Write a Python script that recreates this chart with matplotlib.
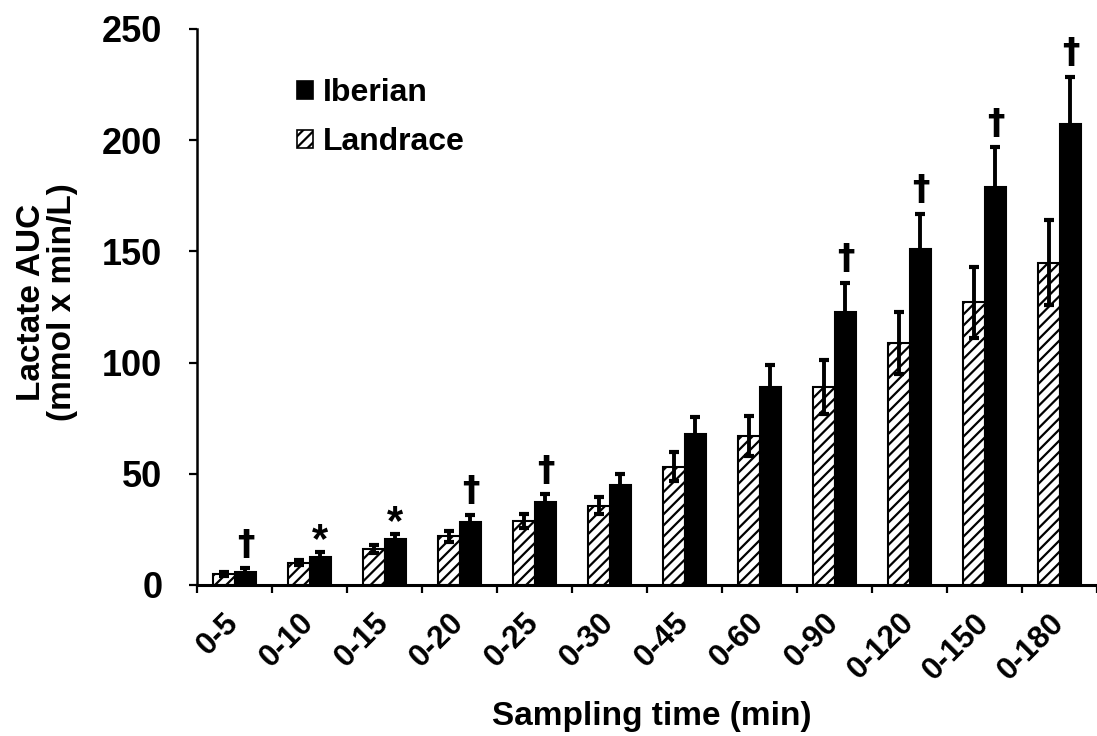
import matplotlib
matplotlib.use("Agg")
import matplotlib.pyplot as plt
from matplotlib.patches import Patch
import numpy as np

plt.rcParams['font.family'] = ['Liberation Sans', 'DejaVu Sans']
plt.rcParams['font.weight'] = 'bold'
plt.rcParams['hatch.linewidth'] = 1.6

categories = ['0-5', '0-10', '0-15', '0-20', '0-25', '0-30', '0-45', '0-60',
              '0-90', '0-120', '0-150', '0-180']
landrace = [4.9, 10.0, 16.0, 22.0, 28.8, 35.7, 53.2, 67.0, 89.0, 108.8, 127.1, 145.0]
landrace_err = [1.0, 1.2, 1.8, 2.5, 3.3, 4.0, 6.5, 9.0, 12.0, 14.0, 16.0, 19.0]
iberian = [6.0, 12.8, 20.5, 28.5, 37.2, 45.0, 67.9, 88.9, 122.8, 151.0, 178.8, 207.4]
iberian_err = [1.5, 2.0, 2.5, 3.0, 3.6, 4.8, 7.5, 10.0, 13.0, 16.0, 18.0, 21.0]
marks = ['†', '*', '*', '†', '†', '', '', '', '†', '†', '†', '†']

W, H = 1097, 736
fig = plt.figure(figsize=(W / 100, H / 100), dpi=100)
ax = fig.add_axes([197 / W, (H - 585) / H, 900 / W, 556 / H])

x = np.arange(len(categories))
bw = 0.29
ax.bar(x - bw / 2, landrace, bw, facecolor='white', edgecolor='black',
       hatch='///', linewidth=1.5, zorder=2)
ax.bar(x + bw / 2, iberian, bw, facecolor='black', edgecolor='black',
       linewidth=1.5, zorder=2)
ax.errorbar(x - bw / 2, landrace, yerr=landrace_err, fmt='none', ecolor='black',
            elinewidth=2.8, capsize=3.5, capthick=3, zorder=3)
ax.errorbar(x + bw / 2, iberian, yerr=iberian_err, fmt='none', ecolor='black',
            elinewidth=2.8, capsize=3.5, capthick=3, zorder=3)

for xi, v, e, m in zip(x, iberian, iberian_err, marks):
    if not m:
        continue
    if m == '*':
        ax.text(xi + bw / 2, v + e - 4.0, m, ha='center', va='bottom',
                fontsize=30, fontweight='bold')
    else:
        ax.text(xi + bw / 2, v + e + 3.0, m, ha='center', va='bottom',
                fontsize=25, fontweight='bold', family=['DejaVu Sans'])

ax.set_xlim(-0.5, -0.5 + 900 / 75.5)
ax.set_ylim(0, 250)
ax.set_yticks([0, 50, 100, 150, 200, 250])
ax.tick_params(axis='y', direction='out', length=6, width=1.6, pad=19,
               labelsize=26)
ax.set_xticks(np.arange(len(categories) + 1) - 0.5)
ax.set_xticklabels([])
ax.tick_params(axis='x', which='major', direction='out', length=6, width=1.6)
ax.set_xticks(x, categories, minor=True)
ax.tick_params(axis='x', which='minor', length=0, pad=24, labelsize=22.5)
for lab in ax.get_xticklabels(minor=True):
    lab.set_rotation(45)
    lab.set_ha('right')
    lab.set_va('center')
    lab.set_rotation_mode('anchor')
    lab.set_fontweight('bold')
for lab in ax.get_yticklabels():
    lab.set_fontweight('bold')

for s in ['top', 'right']:
    ax.spines[s].set_visible(False)
ax.spines['left'].set_linewidth(1.8)
ax.spines['bottom'].set_linewidth(2.2)

fig.text(46.5 / W, 1 - 302 / H, 'Lactate AUC\n(mmol x min/L)', rotation=90,
         ha='center', va='center', fontsize=24, fontweight='bold',
         linespacing=1.0)
fig.text(652 / W, 1 - 725 / H, 'Sampling time (min)', ha='center',
         va='baseline', fontsize=24, fontweight='bold')

handles = [Patch(facecolor='black', edgecolor='black', linewidth=1.2),
           Patch(facecolor='white', edgecolor='black', hatch='///', linewidth=1.2)]
ax.legend(handles, ['Iberian', 'Landrace'], loc='upper left',
          bbox_to_anchor=(297 / W, 1 - 78 / H), bbox_transform=fig.transFigure,
          frameon=False, prop={'weight': 'bold', 'size': 23},
          handlelength=0.5, handleheight=0.5, handletextpad=0.3,
          labelspacing=0.6, borderpad=0, borderaxespad=0)

fig.savefig('out.png', dpi=100)
